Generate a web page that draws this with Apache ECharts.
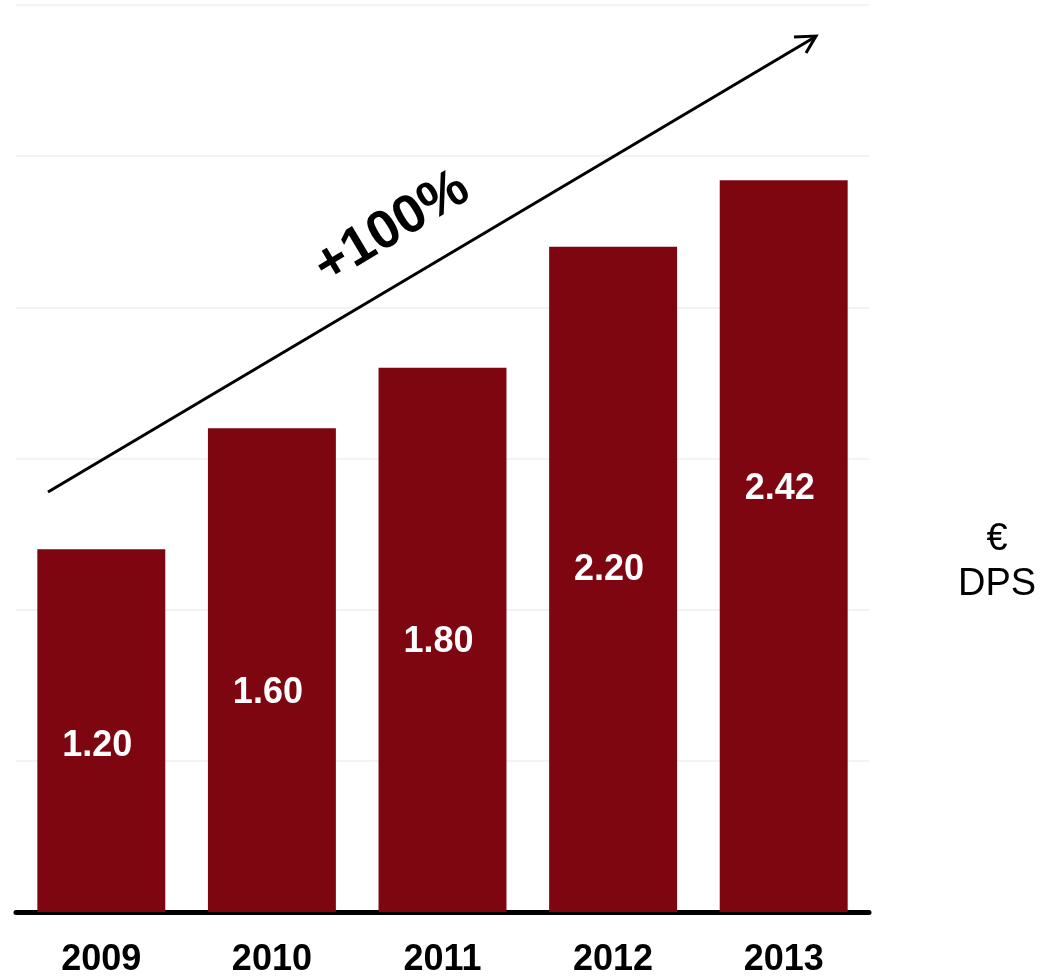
<!DOCTYPE html>
<html>
<head>
<meta charset="utf-8">
<style>html,body{margin:0;padding:0;background:#fff;}#c{width:1044px;height:978px;}</style>
<script src="https://cdn.jsdelivr.net/npm/echarts@6/dist/echarts.min.js"></script>
</head>
<body>
<div id="c"></div>
<script>
const years = ['2009', '2010', '2011', '2012', '2013'];
const dps = [1.20, 1.60, 1.80, 2.20, 2.42];
const growthLabel = '+100%';
const unitLabel = '€\nDPS';

// layout-only tweaks (label vertical offsets in px)
const labelShift = [15, 23, 2, -9, -57];

const chart = echarts.init(document.getElementById('c'));
const FONT = '"Liberation Sans", Arial, sans-serif';
chart.setOption({
  animation: false,
  grid: { left: 16, right: 175, top: 5, bottom: 61, containLabel: false },
  xAxis: {
    type: 'category',
    data: years,
    axisLine: { lineStyle: { color: '#000', width: 5 } },
    axisTick: { show: false },
    axisLabel: { color: '#000', fontFamily: FONT, fontWeight: 'bold', fontSize: 36, margin: 30 }
  },
  yAxis: {
    type: 'value', min: 0, max: 3, interval: 0.5,
    axisLine: { show: false }, axisTick: { show: false }, axisLabel: { show: false },
    splitLine: { lineStyle: { color: '#f3f3f3', width: 2 } }
  },
  series: [{
    type: 'bar',
    barCategoryGap: '25%',
    itemStyle: { color: '#7D0610' },
    data: dps.map((v, i) => ({
      value: v,
      label: { offset: [-4, labelShift[i]] }
    })),
    label: {
      show: true, position: 'inside', color: '#fff',
      fontFamily: FONT, fontWeight: 'bold', fontSize: 36,
      formatter: p => p.value.toFixed(2)
    }
  }],
  graphic: [
    { type: 'line', z: 100, shape: { x1: 48, y1: 492, x2: 815, y2: 37 }, style: { stroke: '#000', lineWidth: 3 } },
    { type: 'polyline', z: 100, shape: { points: [[794, 37], [816, 36], [806, 53]] }, style: { stroke: '#000', lineWidth: 3, fill: null } },
    { type: 'text', z: 100, x: 392, y: 228, rotation: 31 * Math.PI / 180,
      style: { text: growthLabel, fill: '#000', font: 'bold 54px ' + FONT, align: 'center', verticalAlign: 'middle' } },
    { type: 'text', z: 100, x: 997, y: 562,
      style: { text: unitLabel, fill: '#000', font: '38px ' + FONT, align: 'center', verticalAlign: 'middle', lineHeight: 45 } }
  ]
});
</script>
</body>
</html>
